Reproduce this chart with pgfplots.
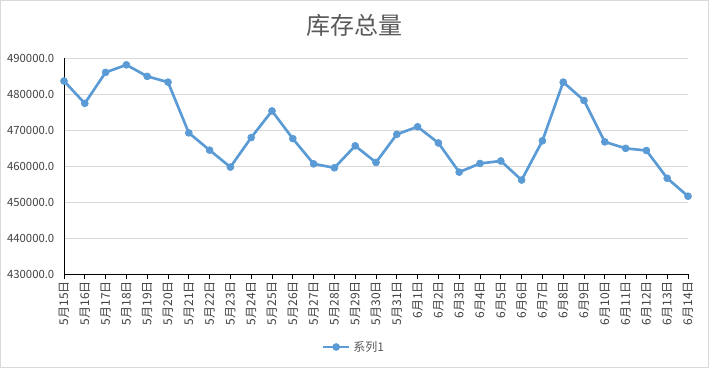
\documentclass[border=0pt]{standalone}
\usepackage{pgfplots}
\pgfplotsset{compat=1.18}
\usepackage{fontspec}
\setmainfont{Noto Sans CJK SC}
\definecolor{serblue}{HTML}{5B9BD5}
\definecolor{gridgray}{HTML}{D9D9D9}
\definecolor{txtgray}{HTML}{595959}
\definecolor{tickgray}{HTML}{404040}
\definecolor{bordergray}{HTML}{D9D9D9}
\begin{document}
\begin{tikzpicture}
\draw[bordergray,line width=0.75pt] (0.375pt,0.375pt) rectangle (531.375pt,275.625pt);
\node[txtgray,font=\fontsize{18}{20}\selectfont] at (265.5pt,257.25pt) {库存总量};
\begin{axis}[
  at={(48pt,70.5pt)}, anchor=south west,
  scale only axis, width=468pt, height=162pt,
  xmin=0, xmax=30, ymin=430000, ymax=490000,
  clip=false,
  scaled y ticks=false,
  axis lines=left, axis line style={-, black, line width=0.6pt},
  xtick={0,...,30},
  xticklabels={5月15日,5月16日,5月17日,5月18日,5月19日,5月20日,5月21日,5月22日,5月23日,5月24日,5月25日,5月26日,5月27日,5月28日,5月29日,5月30日,5月31日,6月1日,6月2日,6月3日,6月4日,6月5日,6月6日,6月7日,6月8日,6月9日,6月10日,6月11日,6月12日,6月13日,6月14日},
  x tick label style={rotate=90, anchor=east, font=\fontsize{9}{10}\selectfont, text=tickgray, inner sep=1.5pt},
  ytick={430000,440000,450000,460000,470000,480000,490000},
  yticklabels={430000.0,440000.0,450000.0,460000.0,470000.0,480000.0,490000.0},
  y tick label style={font=\fontsize{8.5}{10}\selectfont, text=tickgray},
  tick align=outside,
  major tick length=3.75pt,
  xtick style={black, line width=0.6pt},
  ytick style={draw=none},
  ymajorgrids, grid style={gridgray, line width=0.75pt},
  legend style={at={(axis description cs:0.465,-0.338)}, anchor=center, draw=none, fill=none,
    font=\fontsize{9}{10}\selectfont, text=txtgray, inner sep=1pt},
  legend image code/.code={\draw[mark repeat=2,mark phase=2,#1] plot coordinates {(0cm,0cm) (0.35cm,0cm) (0.7cm,0cm)};},
]
\addplot[serblue, line width=2pt, mark=*, mark size=2.6pt, mark options={solid, fill=serblue, draw=serblue, line width=0.5pt}]
coordinates {
(0,483600) (1,477400) (2,486000) (3,488100) (4,484900) (5,483300) (6,469200) (7,464400)
(8,459700) (9,467900) (10,475300) (11,467600) (12,460600) (13,459500) (14,465600) (15,461000)
(16,468800) (17,470900) (18,466400) (19,458300) (20,460700) (21,461400) (22,456100) (23,467000)
(24,483300) (25,478200) (26,466700) (27,464900) (28,464300) (29,456600) (30,451600)
};
\addlegendentry{系列1}
\end{axis}
\end{tikzpicture}
\end{document}
